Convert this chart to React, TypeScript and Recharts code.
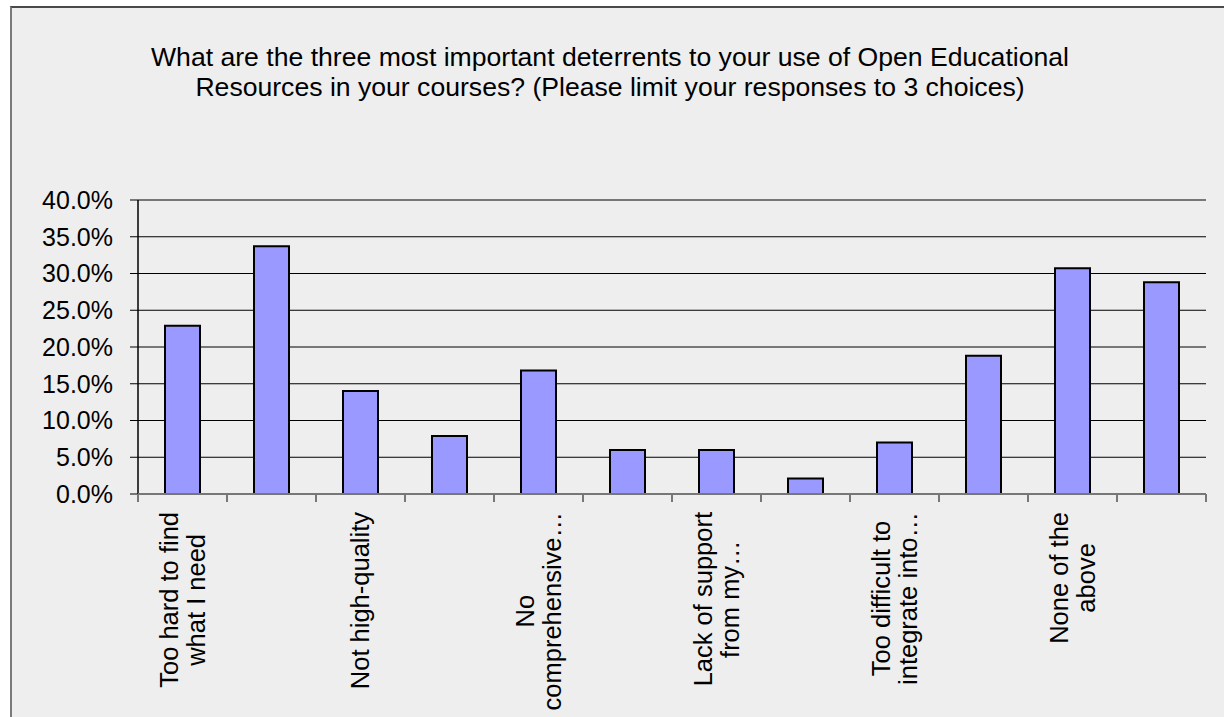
import React from 'react';
import { BarChart, Bar, XAxis, YAxis, CartesianGrid } from 'recharts';

// ---- data ----
const categories = [
  'Too hard to find\nwhat I need',
  '',
  'Not high-quality',
  '',
  'No\ncomprehensive…',
  '',
  'Lack of support\nfrom my…',
  '',
  'Too difficult to\nintegrate into…',
  '',
  'None of the\nabove',
  '',
];
const values = [22.9, 33.7, 14.0, 7.9, 16.8, 6.0, 6.0, 2.1, 7.0, 18.8, 30.7, 28.8];
const yTicks = [0, 5, 10, 15, 20, 25, 30, 35, 40];
const titleLines = [
  'What are the three most important deterrents to your use of Open Educational',
  'Resources in your courses? (Please limit your responses to 3 choices)',
];

const data = categories.map((c, i) => ({ id: String(i), label: c, value: values[i] }));

// ---- layout / style ----
const W = 1224;
const H = 717;
const PLOT_LEFT = 138;
const PLOT_RIGHT = 1206;
const FONT = '"Liberation Sans", Arial, sans-serif';
const X_FONT_SIZE = 25.5;
const X_LINE_H = 27;

let ctx: CanvasRenderingContext2D | null = null;
function measure(text: string, size: number) {
  if (!ctx) {
    const c = document.createElement('canvas');
    ctx = c.getContext('2d');
  }
  if (!ctx) return text.length * size * 0.5;
  ctx.font = `${size}px "Liberation Sans"`;
  return ctx.measureText(text).width;
}

const YTick = (props: any) => {
  const { x, y, payload } = props;
  return (
    <text
      x={x}
      y={y}
      textAnchor="end"
      dy="0.355em"
      fontFamily={FONT}
      fontSize={25}
      fill="#000"
    >
      {`${Number(payload.value).toFixed(1)}%`}
    </text>
  );
};

const XTick = (props: any) => {
  const { x, y, index } = props;
  const band = (PLOT_RIGHT - PLOT_LEFT) / categories.length;
  const label = categories[index] || '';
  const lines = label ? label.split('\n') : [];
  const maxW = lines.reduce((m, l) => Math.max(m, measure(l, X_FONT_SIZE)), 0);
  const top = y + 18;
  const cy = top + maxW / 2;
  const n = lines.length;
  return (
    <g>
      <line x1={x - band / 2} x2={x - band / 2} y1={y} y2={y + 8} stroke="#777" strokeWidth={2} />
      {index === categories.length - 1 && (
        <line x1={x + band / 2} x2={x + band / 2} y1={y} y2={y + 8} stroke="#777" strokeWidth={2} />
      )}
      {lines.map((l, i) => (
        <text
          key={i}
          transform={`translate(${x + (i - (n - 1) / 2) * X_LINE_H},${cy}) rotate(-90)`}
          textAnchor="middle"
          dy="0.35em"
          fontFamily={FONT}
          fontSize={X_FONT_SIZE}
          fill="#000"
        >
          {l}
        </text>
      ))}
    </g>
  );
};

export default function App() {
  return (
    <div
      style={{
        position: 'absolute',
        left: 0,
        top: 0,
        width: W,
        height: H,
        background: '#fff',
        overflow: 'hidden',
      }}
    >
      <div
        style={{
          position: 'absolute',
          left: 10,
          top: 6,
          width: W - 10,
          height: H - 6,
          background: '#eeeeee',
          borderTop: '2px solid #4a4a4a',
          borderLeft: '2px solid #7a7a7a',
          boxSizing: 'border-box',
        }}
      />
      <div
        style={{
          position: 'absolute',
          left: 0,
          top: 42,
          width: 1220,
          textAlign: 'center',
          fontFamily: FONT,
          fontSize: 26.6,
          lineHeight: '30px',
          color: '#000',
        }}
      >
        {titleLines.map((t, i) => (
          <div key={i} style={{ whiteSpace: 'nowrap' }}>
            {t}
          </div>
        ))}
      </div>
      <div style={{ position: 'absolute', left: 0, top: 0 }}>
        <BarChart
          width={W}
          height={H}
          data={data}
          margin={{ top: 200, right: W - PLOT_RIGHT, bottom: 0, left: 0 }}
          barSize={35}
        >
          <CartesianGrid vertical={false} stroke="#000" strokeWidth={1} fill="none" />
          <YAxis
            type="number"
            domain={[0, 40]}
            ticks={yTicks}
            interval={0}
            width={PLOT_LEFT}
            axisLine={{ stroke: '#000', strokeWidth: 1.5 }}
            tickLine={{ stroke: '#000', strokeWidth: 1 }}
            tickSize={8}
            tickMargin={17}
            tick={<YTick />}
          />
          <XAxis
            dataKey="id"
            height={223}
            interval={0}
            axisLine={{ stroke: '#777', strokeWidth: 2 }}
            tickLine={false}
            tickSize={0}
            tickMargin={0}
            tick={<XTick />}
          />
          <Bar dataKey="value" fill="#9999ff" stroke="#000" strokeWidth={2} isAnimationActive={false} />
        </BarChart>
      </div>
    </div>
  );
}
